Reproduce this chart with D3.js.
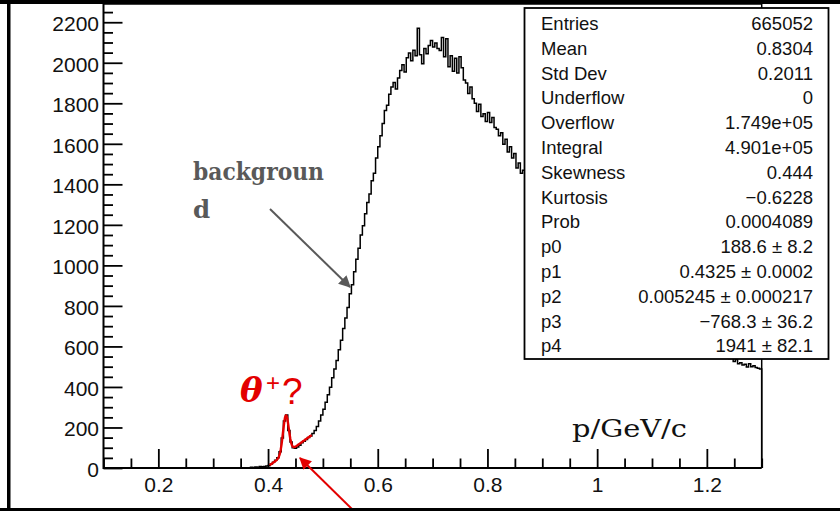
<!DOCTYPE html>
<html>
<head>
<meta charset="utf-8">
<script src="https://cdn.jsdelivr.net/npm/d3@7"></script>
<style>
  body { margin: 0; background: #fff; }
  svg { display: block; }
</style>
</head>
<body>
<svg id="c" width="840" height="511"></svg>
<script>
// ---- data -------------------------------------------------------------
// momentum spectrum, fixed-width bins beginning at binStart (GeV/c)
const binStart = 0.36;
const binWidth = 0.004;
const counts = [
  1, 0, 4, 3, 5, 4, 7, 6, 8, 10, 12,
  20, 28, 38, 50, 80, 148, 232, 262, 185, 128, 100, 98, 104, 112, 125, 132, 141, 150, 158, 170,
  185, 205, 232, 262, 290, 325, 362, 398, 445, 488, 530, 584, 630, 688, 740, 792, 860, 905, 968, 1030,
  1085, 1150, 1195, 1255, 1310, 1352, 1418, 1455, 1530, 1585, 1640, 1700, 1765, 1790, 1845, 1880, 1902, 1870, 1925, 1962,
  1990, 1955, 2025, 2048, 2010, 2062, 2035, 2170, 2040, 1995, 2070, 2045, 2085, 2110, 2078, 2098, 2070, 2060, 2125, 2030,
  2118, 1980, 2035, 1958, 2022, 1950, 2030, 1975, 1915, 1900, 1848, 1880, 1822, 1800, 1760, 1795, 1735, 1748, 1710, 1755,
  1705, 1730, 1680, 1672, 1640, 1655, 1598, 1622, 1560, 1585, 1530, 1552, 1480, 1505, 1455, 1470,
  1462, 1430, 1448, 1415, 1420, 1398, 1405, 1380, 1392, 1362,
  1370, 1345, 1352, 1320, 1330, 1298, 1310, 1280, 1275, 1258,
  1250, 1232, 1238, 1205, 1212, 1190, 1178, 1170, 1155, 1140,
  1135, 1118, 1122, 1098, 1085, 1090, 1062, 1058, 1040, 1035,
  1018, 1002, 995, 985, 968, 972, 948, 940, 930, 918,
  912, 895, 890, 872, 875, 858, 850, 838, 830, 818,
  812, 800, 792, 785, 770, 768, 752, 748, 735, 728,
  722, 710, 705, 695, 690, 678, 672, 665, 655, 650,
  645, 632, 630, 618, 612, 605, 598, 590, 585, 578,
  572, 560, 558, 540, 548, 525, 535, 515, 520, 508,
  512, 498, 515, 500, 505, 496, 492, 488
];

const xDomain = [0.1, 1.3];
const yDomain = [0, 2290];
const xTickLabels = [0.2, 0.4, 0.6, 0.8, 1, 1.2];
const yTickLabels = [0, 200, 400, 600, 800, 1000, 1200, 1400, 1600, 1800, 2000, 2200];

// gaussian (p0,p1,p2) + linear background (p3,p4) fit result
const fitParams = [188.6, 0.4325, 0.005245, -768.3, 1941];
const fitRange = [0.403, 0.48];

const statNames = ["Entries", "Mean", "Std Dev", "Underflow", "Overflow", "Integral",
  "Skewness", "Kurtosis", "Prob", "p0", "p1", "p2", "p3", "p4"];
const statValues = ["665052", "0.8304", "0.2011", "0", "1.749e+05", "4.901e+05",
  "0.444", "\u22120.6228", "0.0004089", "188.6 \u00b1 8.2", "0.4325 \u00b1 0.0002",
  "0.005245 \u00b1 0.000217", "\u2212768.3 \u00b1 36.2", "1941 \u00b1 82.1"];

// ---- layout -----------------------------------------------------------
const svg = d3.select("#c");
const frame = { left: 103.5, right: 761.7, top: 4, bottom: 468 };

const x = d3.scaleLinear().domain(xDomain).range([frame.left, frame.right]);
const y = d3.scaleLinear().domain(yDomain).range([frame.bottom, frame.top]);

svg.append("rect").attr("width", 840).attr("height", 511).attr("fill", "#fff");

// ---- axes (ticks point into the frame) ---------------------------------
const tickFont = "'Liberation Sans', Arial, Helvetica, sans-serif";

const xMinor = d3.range(0.1, 1.3001, 0.05).filter(v => !xTickLabels.some(t => Math.abs(t - v) < 1e-6));
const yMinor = d3.range(0, 2290, 50).filter(v => v % 200 !== 0);

const gxMinor = svg.append("g").attr("transform", `translate(0,${frame.bottom})`)
  .call(d3.axisBottom(x).tickValues(xMinor).tickSize(-9.5).tickFormat(""));
const gx = svg.append("g").attr("transform", `translate(0,${frame.bottom})`)
  .call(d3.axisBottom(x).tickValues(xTickLabels).tickSize(-19).tickPadding(9)
    .tickFormat(d => d3.format("~g")(d)));

const gyMinor = svg.append("g").attr("transform", `translate(${frame.left},0)`)
  .call(d3.axisLeft(y).tickValues(yMinor).tickSize(-9.5).tickFormat(""));
const gy = svg.append("g").attr("transform", `translate(${frame.left},0)`)
  .call(d3.axisLeft(y).tickValues(yTickLabels).tickSize(-19).tickPadding(4.5)
    .tickFormat(d3.format("d")));

[gxMinor, gx, gyMinor, gy].forEach(g => {
  g.select(".domain").remove();
  g.selectAll(".tick line").attr("stroke", "#000").attr("stroke-width", 1.8);
  g.selectAll(".tick text").attr("fill", "#111")
    .style("font-family", tickFont).style("font-size", "21px");
});
gy.selectAll(".tick text").attr("dy", "0.40em");

// frame
svg.append("path")
  .attr("d", `M${frame.left},${frame.top}V${frame.bottom}H${frame.right}`)
  .attr("fill", "none").attr("stroke", "#000").attr("stroke-width", 2);
svg.append("path")
  .attr("d", `M${frame.left},${frame.top}H${frame.right}V${frame.bottom}`)
  .attr("fill", "none").attr("stroke", "#000").attr("stroke-width", 1.5);

// ---- histogram outline ------------------------------------------------
let hd = `M${x(xDomain[0])},${y(0)}H${x(binStart)}`;
counts.forEach((c, i) => {
  hd += `V${y(c)}H${x(binStart + (i + 1) * binWidth)}`;
});
hd += `V${y(0)}`;
svg.append("path").attr("d", hd)
  .attr("fill", "none").attr("stroke", "#000").attr("stroke-width", 1.5)
  .attr("stroke-linejoin", "miter");

// ---- fitted function ----------------------------------------------------
const [p0, p1, p2, p3, p4] = fitParams;
const fitFn = v => p0 * Math.exp(-0.5 * ((v - p1) / p2) ** 2) + p3 + p4 * v;
const fitPts = d3.range(fitRange[0], fitRange[1] + 1e-9, 0.00075).map(v => [v, fitFn(v)]);
svg.append("path")
  .attr("d", d3.line().x(d => x(d[0])).y(d => y(d[1]))(fitPts))
  .attr("fill", "none").attr("stroke", "#e30000").attr("stroke-width", 2.4)
  .attr("stroke-linejoin", "round");

// ---- statistics box -----------------------------------------------------
const box = svg.append("g");
box.append("rect").attr("x", 524.5).attr("y", 8).attr("width", 304).attr("height", 351)
  .attr("fill", "#fff").attr("stroke", "#000").attr("stroke-width", 1.8);
statNames.forEach((n, i) => {
  const by = 30 + i * 24.8;
  box.append("text").attr("x", 541).attr("y", by).text(n)
    .style("font-family", tickFont).style("font-size", "18.5px").attr("fill", "#111");
  box.append("text").attr("x", 813).attr("y", by).attr("text-anchor", "end").text(statValues[i])
    .style("font-family", tickFont).style("font-size", "18.5px").attr("fill", "#111");
});

// ---- annotations --------------------------------------------------------
const defs = svg.append("defs");
function marker(id, color) {
  defs.append("marker").attr("id", id).attr("viewBox", "0 0 10 10")
    .attr("refX", 9).attr("refY", 5).attr("markerWidth", 12).attr("markerHeight", 12)
    .attr("markerUnits", "userSpaceOnUse").attr("orient", "auto")
    .append("path").attr("d", "M0,0L10,5L0,10z").attr("fill", color);
}
marker("arrGray", "#595959");
marker("arrRed", "#e30000");

const noteFont = "'DejaVu Serif', 'Liberation Serif', serif";
svg.append("text").attr("x", 193).attr("y", 180)
  .attr("textLength", 131).attr("lengthAdjust", "spacingAndGlyphs")
  .style("font-family", noteFont)
  .style("font-size", "24.5px").style("font-weight", "bold").attr("fill", "#595959")
  .text("backgroun");
svg.append("text").attr("x", 193).attr("y", 218)
  .style("font-family", noteFont)
  .style("font-size", "24.5px").style("font-weight", "bold").attr("fill", "#595959")
  .text("d");
svg.append("line").attr("x1", 270).attr("y1", 209).attr("x2", 350).attr("y2", 287)
  .attr("stroke", "#595959").attr("stroke-width", 2).attr("marker-end", "url(#arrGray)");

svg.append("text").attr("x", 240).attr("y", 402)
  .style("font-family", noteFont)
  .style("font-size", "34px").style("font-weight", "bold").style("font-style", "italic")
  .attr("fill", "#e30000").text("\u03b8");
svg.append("text").attr("x", 266).attr("y", 391)
  .style("font-family", "'Liberation Sans', Arial, sans-serif")
  .style("font-size", "24px").attr("fill", "#e30000").text("+");
svg.append("text").attr("x", 282).attr("y", 404)
  .style("font-family", "'Liberation Sans', Arial, sans-serif")
  .style("font-size", "37px").attr("fill", "#e30000").text("?");

svg.append("line").attr("x1", 355).attr("y1", 512).attr("x2", 300).attr("y2", 458)
  .attr("stroke", "#e30000").attr("stroke-width", 2).attr("marker-end", "url(#arrRed)");

svg.append("text").attr("x", 572).attr("y", 437)
  .attr("textLength", 115).attr("lengthAdjust", "spacingAndGlyphs")
  .style("font-family", noteFont)
  .style("font-size", "24px").attr("fill", "#111").text("p/GeV/c");

// ---- canvas border ------------------------------------------------------
svg.append("rect").attr("x", 0).attr("y", 0).attr("width", 840).attr("height", 4).attr("fill", "#000");
svg.append("rect").attr("x", 7).attr("y", 0).attr("width", 3.5).attr("height", 511).attr("fill", "#000");
svg.append("rect").attr("x", 0).attr("y", 508).attr("width", 840).attr("height", 3).attr("fill", "#000");
</script>
</body>
</html>
